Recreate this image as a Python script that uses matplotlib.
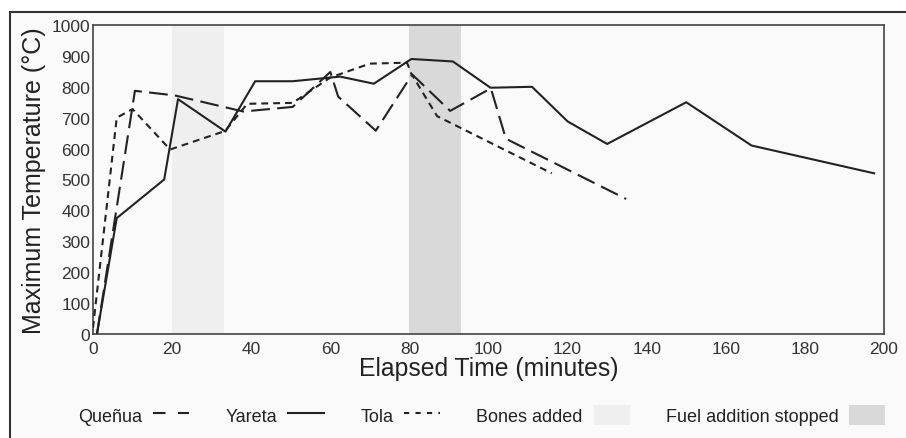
import matplotlib
matplotlib.use("Agg")
import matplotlib.pyplot as plt
from matplotlib.lines import Line2D
from matplotlib.patches import Patch, Rectangle

# --- data ---
quenua_t = [1, 10.6, 20.7, 38, 50.5, 60, 62, 71.5, 80.7, 90.3, 100.6, 104.4, 134.8]
quenua_T = [0, 787, 772, 720, 735, 848, 768, 658, 840, 722, 795, 632, 437]

yareta_t = [1, 6, 18, 21.5, 33.5, 41, 50.5, 62.5, 71, 80.5, 91, 100.5, 111, 120, 130, 150, 166.5, 197.5]
yareta_T = [0, 375, 500, 760, 655, 818, 818, 833, 810, 890, 882, 797, 800, 688, 615, 750, 610, 520]

tola_t = [0, 6, 10, 19.5, 33.4, 39, 50.5, 60, 70, 79.4, 80.5, 87, 116]
tola_T = [20, 700, 728, 597, 657, 745, 748, 830, 875, 878, 842, 705, 520]

bones_span = (20, 33)
fuel_span = (80, 93)

x_ticks = list(range(0, 201, 20))
y_ticks = list(range(0, 1001, 100))

plt.rcParams["font.family"] = ["Liberation Sans", "DejaVu Sans"]

ink = "#222222"
bg = "#fafafa"

fig = plt.figure(figsize=(9.06, 4.39), dpi=100, facecolor="white")

# outer frame (only left and top edges are visible in the crop)
fig.add_artist(Rectangle((10 / 906, -0.1), 1.2, 0.1 + 1 - 13 / 439,
                         transform=fig.transFigure, facecolor=bg,
                         edgecolor="#333333", lw=1.5, zorder=-10))

ax = fig.add_axes([93 / 906, 1 - 335 / 439, (884 - 93) / 906, (335 - 26) / 439])
ax.set_facecolor(bg)

ax.axvspan(*bones_span, color="#efefef", lw=0, zorder=0)
ax.axvspan(*fuel_span, color="#d9d9d9", lw=0, zorder=0)

lw = 1.5
ax.plot(quenua_t, quenua_T, color=ink, lw=lw, dashes=(9, 3.5), zorder=3)
ax.plot(yareta_t, yareta_T, color=ink, lw=lw, zorder=3)
ax.plot(tola_t, tola_T, color=ink, lw=lw, dashes=(3.3, 2.4), zorder=3)

ax.set_xlim(0, 200)
ax.set_ylim(0, 1000)
ax.set_xticks(x_ticks)
ax.set_yticks(y_ticks)
ax.tick_params(length=0, labelsize=12.5, colors="#333333")
ax.tick_params(axis="x", pad=5)
ax.tick_params(axis="y", pad=2)
for s in ax.spines.values():
    s.set_color("#444444")
    s.set_linewidth(1.2)

ax.set_xlabel("Elapsed Time (minutes)", fontsize=17.8, color="#222222", labelpad=0)
ax.set_ylabel("Maximum Temperature (°C)", fontsize=18, color="#222222", labelpad=4)

handles = [
    Line2D([], [], color=ink, lw=lw, dashes=(6, 6)),
    Line2D([], [], color=ink, lw=lw),
    Line2D([], [], color=ink, lw=lw, dashes=(2.5, 3)),
    Patch(facecolor="#efefef", edgecolor="none"),
    Patch(facecolor="#d9d9d9", edgecolor="none"),
]
labels = ["Queñua", "Yareta", "Tola", "Bones added", "Fuel addition stopped"]
fig.legend(handles, labels, loc="center", bbox_to_anchor=(482 / 906, 1 - 416 / 439),
           ncol=5, frameon=False, markerfirst=False, fontsize=13,
           handlelength=2.0, handleheight=1.3, handletextpad=0.6,
           columnspacing=2.0, labelcolor="#222222")

fig.savefig("out.png", dpi=100, facecolor="white")
